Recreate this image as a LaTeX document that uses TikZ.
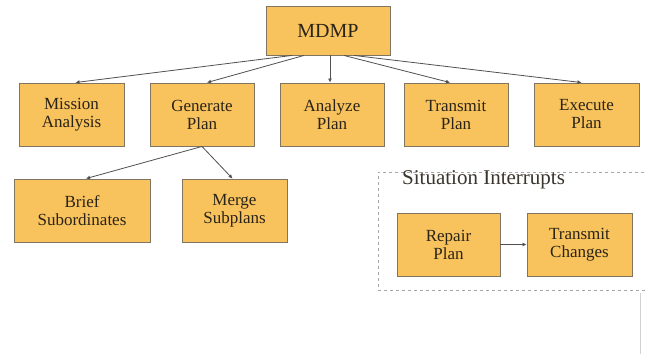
\documentclass[tikz,border=0pt]{standalone}
\usepackage{fontspec}
\setmainfont{Liberation Serif}
\usetikzlibrary{arrows.meta,calc}
\definecolor{boxfill}{HTML}{F8C25C}
\definecolor{boxline}{HTML}{7F7561}
\definecolor{txt}{HTML}{2A2418}
\definecolor{lnk}{HTML}{505050}
\tikzset{
  box/.style={draw=boxline, line width=0.9pt, fill=boxfill, text=txt, align=center,
    inner sep=0pt, minimum width=104pt, minimum height=63pt,
    font=\fontsize{17}{18}\selectfont},
  link/.style={draw=lnk, line width=0.8pt, -{Latex[length=4pt,width=4pt]}},
}
\begin{document}
\begin{tikzpicture}[x=1pt,y=-1pt]
\useasboundingbox (0,0) rectangle (647,354);
\fill[white] (0,0) rectangle (647,354);
\node[box, minimum width=124pt, minimum height=49pt, font=\fontsize{20}{24}\selectfont] (m) at (328,30.5) {MDMP};
\node[box, minimum width=105pt] (ma) at (71.5,114.5) {Mission\\Analysis};
\node[box] (gp) at (202,114.5) {Generate\\Plan};
\node[box] (ap) at (332,114.5) {Analyze\\Plan};
\node[box] (tp) at (456,114.5) {Transmit\\Plan};
\node[box, minimum width=105pt] (ep) at (586.5,114.5) {Execute\\Plan};
\node[box, minimum width=136pt] (bs) at (82,210.5) {Brief\\Subordinates};
\node[box, minimum width=105pt] (ms) at (234.5,210.5) {Merge\\Subplans};
\node[draw=gray!70, dashed, line width=0.8pt, minimum width=272pt, minimum height=118pt, inner sep=0pt, anchor=north west] (si) at (378,172) {};
\node[anchor=west, inner sep=0pt, text=txt!80!gray, font=\fontsize{21}{24}\selectfont] (sil) at (402,180) {Situation Interrupts};
\node[box, minimum width=103pt] (rp) at (448.5,244.5) {Repair\\Plan};
\node[box, minimum width=105pt] (tc) at (579.5,244.5) {Transmit\\Changes};
\coordinate (edgetop) at (640.5,293);
\coordinate (edgebot) at (640.5,354);
\draw[gray!35, line width=0.8pt] (edgetop) -- (edgebot);
\draw[link] ([xshift=-36pt]m.south) -- ([xshift=4pt]ma.north);
\draw[link] ([xshift=-24pt]m.south) -- ([xshift=5pt]gp.north);
\draw[link] ([xshift=2pt]m.south) -- ([xshift=-2pt]ap.north);
\draw[link] ([xshift=16pt]m.south) -- ([xshift=-6pt]tp.north);
\draw[link] ([xshift=26pt]m.south) -- ([xshift=-5pt]ep.north);
\draw[link] (gp.south) -- ([xshift=4pt]bs.north);
\draw[link] (gp.south) -- ([xshift=-2pt]ms.north);
\draw[link] (rp.east) -- (tc.west);
\end{tikzpicture}
\end{document}
